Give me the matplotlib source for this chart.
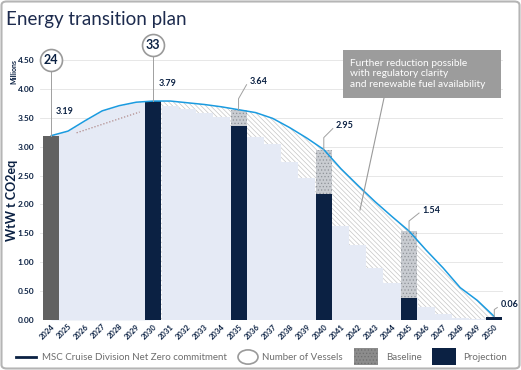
import matplotlib.pyplot as plt
from matplotlib.patches import Rectangle, Circle, FancyBboxPatch
from matplotlib.lines import Line2D

plt.rcParams['font.family'] = ['Lato', 'DejaVu Sans']
plt.rcParams['hatch.linewidth'] = 0.5

# data
years = list(range(2024, 2051))
# MSC Cruise Division Net Zero commitment (blue line)
commitment = [3.19, 3.27, 3.45, 3.62, 3.71, 3.77, 3.79, 3.79, 3.76, 3.73, 3.69, 3.64, 3.59,
              3.49, 3.33, 3.15, 2.95, 2.62, 2.33, 2.05, 1.79, 1.54, 1.21, 0.90, 0.56, 0.34, 0.06]
# light blue staircase after 2030
step_years = list(range(2031, 2050))
step_vals = [3.70, 3.66, 3.58, 3.51, 3.36, 3.17, 3.04, 2.73, 2.46, 2.18,
             1.63, 1.30, 0.90, 0.64, 0.38, 0.23, 0.10, 0.03, 0.02]
proj_years = [2030, 2035, 2040, 2045, 2050]
proj_vals = [3.79, 3.36, 2.18, 0.38, 0.06]
base_years = [2035, 2040, 2045]
base_vals = [3.64, 2.95, 1.54]
start_year = 2024
start_val = 3.19
vessel_years = [2024, 2030]
vessel_counts = [24, 33]
dotted_x = [2025.5, 2029.2]
dotted_y = [3.24, 3.60]
yticks = [0, 0.5, 1, 1.5, 2, 2.5, 3, 3.5, 4, 4.5]

NAVY = '#0b2143'
BLUE = '#1a9be0'
LIGHT = '#e5eaf5'
GRAYTXT = '#6d6d6d'

W, H = 521, 370
def fx(p): return p / W
def fy(p): return 1 - p / H

fig = plt.figure(figsize=(W / 100, H / 100), dpi=100)
ax = fig.add_axes([fx(40), fy(320), 463 / W, (320 - 39.8) / H])
xl = (2024 + (40 - 51) / 17.05, 2024 + (503 - 51) / 17.05)
ax.set_xlim(*xl)
ax.set_ylim(0, 4.85)
ppx = 463 / (xl[1] - xl[0])
ppy = (320 - 39.8) / 4.85

for y in yticks:
    ax.axhline(y, color='#e3e3e3', lw=0.6, zorder=0)

# hatched potential reduction area
ax.fill_between(years, commitment, 0, facecolor='white', edgecolor='#c6c6c6',
                hatch='\\' * 7, linewidth=0, zorder=1)
# light blue below the line up to 2030
ax.fill_between(years[:7], commitment[:7], 0, color=LIGHT, linewidth=0, zorder=2)
ax.bar(step_years, step_vals, width=1.0, color=LIGHT, linewidth=0, zorder=2)
ax.plot(dotted_x, dotted_y, ls=(0, (1, 1.5)), color='#b08a8a', lw=0.9, zorder=3)

# bars
ax.bar(start_year, start_val, width=0.94, color='#616161', zorder=4)
ax.bar(base_years, base_vals, width=0.94, facecolor='#c9ccd1', edgecolor='#8f9399',
       hatch='.....', linewidth=0, zorder=4)
ax.bar(proj_years, proj_vals, width=0.94, color=NAVY, zorder=5)

ax.plot(years, commitment, color=BLUE, lw=1.1, zorder=6, solid_capstyle='round')

# vessel circles
circ_y = [4.5, 4.76]
for yr, n, cy, top in zip(vessel_years, vessel_counts, circ_y, [start_val, proj_vals[0]]):
    ax.plot([yr, yr], [cy - 11 / ppy, top], color='#a0a0a0', lw=0.7, zorder=6)
    ax.scatter([yr], [cy], s=250, facecolor='white', edgecolor='#9a9a9a', lw=1.2,
               zorder=7, clip_on=False)
    ax.text(yr, cy, str(n), ha='center', va='center', fontsize=9, fontweight='bold',
            color=NAVY, zorder=8, clip_on=False)

# value labels
lab = dict(fontsize=6.5, fontweight='bold', color=NAVY, va='center', ha='left', zorder=8)
ax.text(start_year + 5 / ppx, start_val + 24 / ppy, f'{start_val:.2f}', **lab)
ax.text(proj_years[0] + 5 / ppx, proj_vals[0] + 18 / ppy, f'{proj_vals[0]:.2f}', **lab)
lead_years = base_years + [proj_years[-1]]
lead_vals = base_vals + [proj_vals[-1]]
lead_geo = [(11, 11, 28), (12, 12, 24), (10, 13, 21), (7, 6, 12)]
for yr, v, (vv, dx, dy) in zip(lead_years, lead_vals, lead_geo):
    ax.plot([yr, yr, yr + (dx - 3) / ppx], [v, v + vv / ppy, v + (dy - 3) / ppy],
            color='#a0a0a0', lw=0.7, zorder=6)
    ax.text(yr + dx / ppx, v + dy / ppy, f'{v:.2f}', **lab)

for s in ax.spines.values():
    s.set_visible(False)
ax.set_yticks(yticks)
ax.set_yticklabels([f'{y:.2f}' for y in yticks], fontsize=6, fontweight='bold', color=NAVY)
ax.set_xticks(years)
ax.set_xticklabels([str(y) for y in years], rotation=45, ha='right', va='top',
                   rotation_mode='anchor', fontsize=5.5, fontweight='bold', color=NAVY)
ax.tick_params(axis='y', length=0, pad=4)
ax.tick_params(axis='x', length=0, pad=2)

fig.text(fx(12), fy(200), 'WtW t CO2eq', rotation=90, ha='center', va='center',
         fontsize=9, fontweight='bold', color=NAVY)
fig.text(fx(13.5), fy(72), 'Millions', rotation=90, ha='center', va='center',
         fontsize=5, fontweight='bold', color=NAVY)
fig.text(fx(6), fy(20), 'Energy transition plan', ha='left', va='center',
         fontsize=13.5, fontweight='normal', color='#1d2b4e')

# annotation box
fig.add_artist(Rectangle((fx(343), fy(98)), 158 / W, 48 / H, transform=fig.transFigure,
                         facecolor='#9c9c9c', edgecolor='none', zorder=9))
fig.text(fx(350), fy(74), 'Further reduction possible\nwith regulatory clarity\nand renewable fuel availability',
         ha='left', va='center', fontsize=7.3, color='white', linespacing=1.25, zorder=10)
fig.add_artist(Line2D([fx(384), fx(360)], [fy(98), fy(210)], transform=fig.transFigure,
                      color='#9a9a9a', lw=0.8, zorder=9))

# legend
ly = 357
fig.add_artist(Line2D([fx(16), fx(36)], [fy(ly), fy(ly)], transform=fig.transFigure,
                      color=NAVY, lw=2))
leg = dict(fontsize=7, color=GRAYTXT, ha='left', va='center')
fig.text(fx(42), fy(ly), 'MSC Cruise Division Net Zero commitment', **leg)
fig.add_artist(Circle((fx(248), fy(ly)), 10 / W, transform=fig.transFigure,
                      facecolor='white', edgecolor='#9a9a9a', lw=1.2))
fig.text(fx(262), fy(ly), 'Number of Vessels', **leg)
fig.add_artist(Rectangle((fx(354), fy(365)), 24 / W, 17 / H, transform=fig.transFigure,
                         facecolor='#8c8c8c', edgecolor='#6f6f6f', hatch='.....', lw=0))
fig.text(fx(386), fy(ly), 'Baseline', **leg)
fig.add_artist(Rectangle((fx(432), fy(365)), 24 / W, 17 / H, transform=fig.transFigure,
                         facecolor=NAVY, edgecolor='none'))
fig.text(fx(463), fy(ly), 'Projection', **leg)

# border
fig.add_artist(FancyBboxPatch((fx(1.5), fy(368.5)), 518 / W, 367 / H,
                              boxstyle='round,pad=0,rounding_size=0.01',
                              transform=fig.transFigure, facecolor='none',
                              edgecolor='#b5b5b5', lw=1.5))

fig.savefig('out.png', dpi=100)
